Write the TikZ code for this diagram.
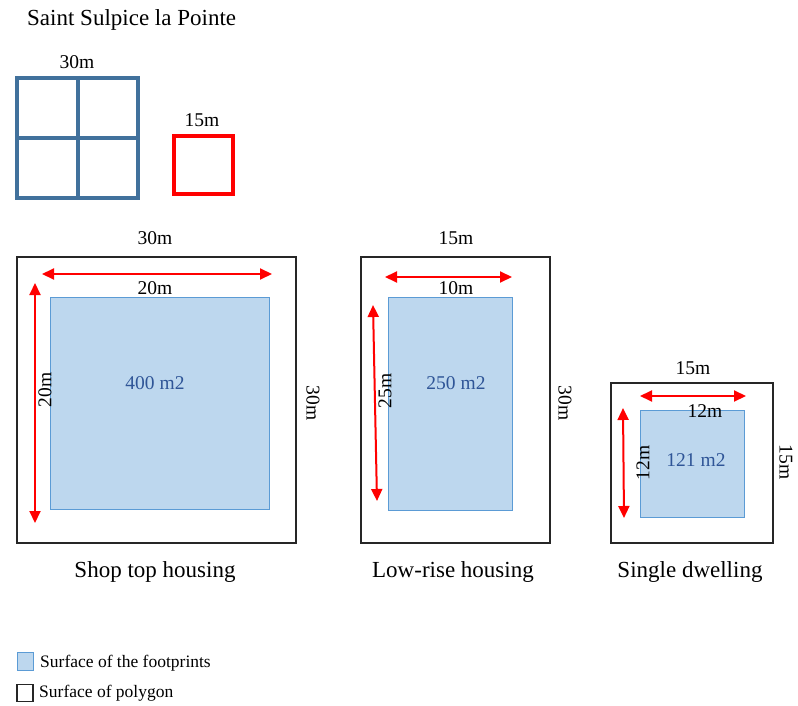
\documentclass[tikz,border=0pt]{standalone}
\usepackage{fontspec}
\setmainfont{Liberation Serif}
\usetikzlibrary{arrows.meta}
\definecolor{gridblue}{HTML}{41719C}
\definecolor{fpfill}{HTML}{BDD7EE}
\definecolor{fpdraw}{HTML}{5B9BD5}
\definecolor{areatxt}{HTML}{2F5597}
\definecolor{dimred}{HTML}{FF0000}
\tikzset{
  lbl/.style={inner sep=0pt, font=\fontsize{19.5}{22}\selectfont},
  big/.style={inner sep=0pt, font=\fontsize{23}{26}\selectfont},
  leg/.style={inner sep=0pt, anchor=west, font=\fontsize{17.5}{20}\selectfont},
  plot/.style={draw=black!85, line width=1.3pt},
  foot/.style={draw=fpdraw, fill=fpfill, line width=1pt},
  area/.style={lbl, text=areatxt},
  dim/.style={draw=dimred, line width=2pt, {Triangle[length=12pt,width=11pt]}-{Triangle[length=12pt,width=11pt]}},
}
\begin{document}
\begin{tikzpicture}[x=1pt,y=-1pt]
\path[use as bounding box] (0,0) rectangle (798,706);

% title
\node[big, anchor=west] (title) at (27,20) {Saint Sulpice la Pointe};

% blue grid
\node[draw=gridblue, line width=4pt, minimum width=121pt, minimum height=120pt, inner sep=0pt] (grid) at (77.5,138) {};
\draw[gridblue, line width=4pt] (grid.north) -- (grid.south);
\draw[gridblue, line width=4pt] (grid.west) -- (grid.east);
\node[lbl] (g30) at (77,62) {30m};

% red square
\node[draw=dimred, line width=4pt, minimum width=59pt, minimum height=58pt, inner sep=0pt] (red) at (203.5,165) {};
\node[lbl] (r15) at (202,120) {15m};

% ---- Shop top housing
\node[plot, minimum width=279pt, minimum height=286pt, inner sep=0pt] (p1) at (156.5,400) {};
\node[foot, minimum width=219pt, minimum height=212pt, inner sep=0pt] (f1) at (159.5,403) {};
\coordinate (h1a) at (42,274); \coordinate (h1b) at (272,274);
\coordinate (v1a) at (35,283); \coordinate (v1b) at (35,523);
\draw[dim] (h1a) -- (h1b);
\draw[dim] (v1a) -- (v1b);
\node[lbl] (t1) at (155,238) {30m};
\node[lbl] (w1) at (155,288) {20m};
\node[lbl, rotate=90] (l1) at (45,390) {20m};
\node[area] (a1) at (155,383) {400 m2};
\node[lbl, rotate=-90] (s1) at (313,403) {30m};
\node[big] (n1) at (155,572) {Shop top housing};

% ---- Low-rise housing
\node[plot, minimum width=189pt, minimum height=286pt, inner sep=0pt] (p2) at (455.5,400) {};
\node[foot, minimum width=124pt, minimum height=213pt, inner sep=0pt] (f2) at (450,403.5) {};
\coordinate (h2a) at (385,277); \coordinate (h2b) at (512,277);
\coordinate (v2a) at (373,305); \coordinate (v2b) at (377,501);
\draw[dim] (h2a) -- (h2b);
\draw[dim] (v2a) -- (v2b);
\node[lbl] (t2) at (456,238) {15m};
\node[lbl] (w2) at (456,288) {10m};
\node[lbl, rotate=90] (l2) at (385,391) {25m};
\node[area] (a2) at (456,383) {250 m2};
\node[lbl, rotate=-90] (s2) at (565,403) {30m};
\node[big] (n2) at (453,572) {Low-rise housing};

% ---- Single dwelling
\node[plot, minimum width=162pt, minimum height=160pt, inner sep=0pt] (p3) at (692,463) {};
\node[foot, minimum width=104pt, minimum height=107pt, inner sep=0pt] (f3) at (692,463.5) {};
\coordinate (h3a) at (640,396); \coordinate (h3b) at (746,396);
\coordinate (v3a) at (623,408); \coordinate (v3b) at (624,518);
\draw[dim] (h3a) -- (h3b);
\draw[dim] (v3a) -- (v3b);
\node[lbl] (t3) at (693,368) {15m};
\node[lbl] (w3) at (705,411) {12m};
\node[lbl, rotate=90] (l3) at (643,463) {12m};
\node[area] (a3) at (696,460) {121 m2};
\node[lbl, rotate=-90] (s3) at (786,462) {15m};
\node[big] (n3) at (690,572) {Single dwelling};

% legend
\node[foot, minimum width=16pt, minimum height=18pt, inner sep=0pt] (k1) at (25,661.5) {};
\node[leg] (k1t) at (40,663) {Surface of the footprints};
\node[draw=black!85, line width=1.2pt, minimum width=16pt, minimum height=17pt, inner sep=0pt] (k2) at (25,693) {};
\node[leg] (k2t) at (39,693) {Surface of polygon};
\end{tikzpicture}
\end{document}
